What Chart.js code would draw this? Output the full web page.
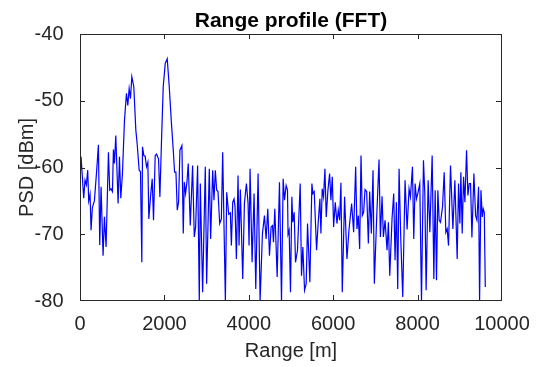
<!DOCTYPE html>
<html>
<head>
<meta charset="utf-8">
<script src="https://cdn.jsdelivr.net/npm/chart.js@4.4.1/dist/chart.umd.min.js"></script>
<style>
  html, body { margin: 0; padding: 0; background: #fff; }
  #wrap { width: 543px; height: 367px; }
</style>
</head>
<body>
<div id="wrap"><canvas id="rangeChart" width="543" height="367"></canvas></div>
<script>
// range bins [m], one line per stretch of the x axis
const rangeM = [
  0, 25, 88, 119, 151, 183, 206, 238, 262, 293, 341, 396, 436, 468, 499, 547, 579, 618, 674, 705, 737, 769, 792, 816, 848, 903, 935, 967, 1006, 1054, 1101, 1133, 1165, 1196, 1228,
  1275, 1323, 1354, 1402, 1433, 1465, 1481, 1513, 1544, 1576, 1608, 1631, 1671, 1711, 1742, 1782, 1814, 1861, 1893, 1932, 1972, 2020, 2067, 2115, 2162, 2210, 2241, 2273, 2305, 2336, 2368, 2415, 2447, 2471,
  2502, 2534, 2565, 2613, 2668, 2708, 2740, 2787, 2827, 2851, 2906, 2969, 3001, 3064, 3096, 3144, 3175, 3207, 3239, 3270, 3310, 3350, 3381, 3445, 3476, 3524, 3563, 3587, 3619, 3650, 3674, 3706,
  3745, 3769, 3800, 3856, 3896, 3943, 3983, 4006, 4030, 4078, 4125, 4165, 4220, 4268, 4323, 4371, 4410, 4450, 4490, 4529, 4561, 4585, 4616, 4672, 4727, 4775, 4814, 4846, 4885, 4917,
  4930, 4956, 4988, 5020, 5043, 5075, 5107, 5154, 5218, 5249, 5281, 5321, 5360, 5392, 5447, 5495, 5519, 5550, 5606, 5645, 5685, 5709, 5740, 5772, 5804, 5835, 5875, 5915, 5946, 5978, 6010, 6049, 6089, 6120, 6152, 6183,
  6215, 6270, 6326, 6373, 6437, 6484, 6532, 6563, 6595, 6627, 6659, 6690, 6722, 6754, 6793, 6833, 6864, 6904, 6944, 6975, 7031, 7086, 7118, 7158, 7189, 7229, 7276, 7308, 7340, 7395,
  7434, 7466, 7498, 7529, 7561, 7600, 7648, 7703, 7751, 7798, 7830, 7878, 7909, 7941, 7973, 8004, 8052, 8092, 8139, 8171, 8202, 8250, 8290, 8345, 8385, 8416, 8448, 8480, 8511, 8543, 8590, 8630,
  8669, 8701, 8733, 8780, 8836, 8883, 8938, 8970, 9002, 9026, 9057, 9089, 9121, 9160, 9192, 9224, 9255, 9287, 9334, 9374, 9406, 9445, 9469, 9501, 9532, 9556, 9580, 9604
];

// PSD [dBm] at those bins
const psdDbm = [
  -62, -58.4, -64.6, -61.9, -62.6, -60.4, -65, -64, -69.4, -66, -65, -60.4, -56.6, -71.6, -62.9, -73.2, -67.4, -71.9, -57.7, -63.4, -63.2, -63.6, -57.3, -59.4, -55.2, -65.4, -58.4, -64.6, -60.9, -52.9, -48.9, -50.7, -48.2, -49.7, -46.4,
  -47.9, -54.4, -56.4, -60.4, -60.6, -74.2, -56.9, -58.2, -58.3, -59.9, -59.2, -67.7, -64.4, -61.7, -67.9, -58.2, -58.0, -58.7, -64.4, -55.9, -47.9, -44.4, -43.7, -47.9, -52.9, -57.4, -60.7, -60.7, -66.4, -65.2, -57.4, -56.7, -69.9, -62.2,
  -63.9, -62.2, -59.4, -68.7, -59.7, -70.4, -68.9, -59.7, -80, -62.4, -78.7, -59.9, -77.4, -60.2, -70.7, -60.4, -64.9, -60.4, -63.4, -63.6, -68.4, -67.7, -57.7, -80, -63.7, -67, -66.8, -71.7, -65.2, -64.7, -65.9, -73.7,
  -61.2, -71.7, -63.3, -76.7, -65.4, -62.4, -65.4, -71.7, -60.2, -74.2, -63.9, -78.2, -60.9, -80, -69.9, -67.2, -70.7, -66.2, -73.2, -68.9, -68.7, -71.2, -66.2, -76.4, -62.2, -80, -61.7, -64.9, -62.7, -63.4,
  -70, -69.4, -78.7, -64.4, -68.2, -66.7, -74.2, -72.4, -62.4, -76.2, -71.9, -78.4, -77.4, -68.4, -77.2, -62.4, -63.9, -63.6, -72.4, -68.2, -64.7, -69.9, -63.2, -64.4, -60.2, -67.4, -63.4, -60.9, -64.9, -61.4, -68.9, -65.2, -68.4, -66.4, -67.9, -62.3,
  -78.7, -64.4, -73.7, -69.4, -65.4, -69.7, -59.9, -69.2, -67.2, -72.2, -58.2, -67.2, -66.7, -63.3, -63.6, -71.4, -63.6, -69.9, -60.4, -77.4, -67.4, -58.8, -70.4, -64.3, -70.4, -67.9, -72.4, -68.2, -76.2, -67.6,
  -63.9, -73.9, -65.2, -78.2, -60.2, -70.4, -79.4, -61.9, -69.3, -63.2, -64.4, -59.9, -70.7, -62.4, -64.7, -63.9, -62.4, -80, -58.9, -63.9, -78.4, -61.9, -69.7, -58.2, -76.7, -63.4, -76.9, -63.4, -67.9, -68.2, -65.9, -60.7,
  -69.7, -69.2, -71.7, -59.7, -69.2, -61.9, -73.7, -62.4, -68.4, -60.7, -69.9, -61.4, -65.2, -57.4, -64.2, -62.4, -62.4, -70.5, -60.9, -67.2, -67.9, -62.9, -80, -63.4, -67.4, -66.2, -66.7, -77.9
];

const xTicks = [0, 2000, 4000, 6000, 8000, 10000];
const yTicks = [-80, -70, -60, -50, -40];

const axisColor = '#262626';
const fontFamily = '"Liberation Sans", Arial, Helvetica, sans-serif';

// MATLAB style box, ticks point into the plot on all four sides
const boxPlugin = {
  id: 'matlabBox',
  afterDraw(chart) {
    const c = chart.ctx;
    const a = chart.chartArea;
    const xs = chart.scales.x, ys = chart.scales.y;
    const L = Math.round(a.left), R = Math.round(a.right) - 1;
    const T = Math.round(a.top), B = Math.round(a.bottom) - 1;
    const len = 5;
    c.save();
    c.fillStyle = axisColor;
    c.fillRect(L, T, R - L + 1, 1);
    c.fillRect(L, B, R - L + 1, 1);
    c.fillRect(L, T, 1, B - T + 1);
    c.fillRect(R, T, 1, B - T + 1);
    xTicks.forEach(v => {
      const px = Math.round(xs.getPixelForValue(v));
      c.fillRect(Math.min(px, R), B - len, 1, len);
      c.fillRect(Math.min(px, R), T, 1, len);
    });
    yTicks.forEach(v => {
      const py = Math.round(ys.getPixelForValue(v));
      c.fillRect(L, Math.min(py, B), len, 1);
      c.fillRect(R - len, Math.min(py, B), len, 1);
    });
    c.restore();
  }
};

const chart = new Chart(document.getElementById('rangeChart'), {
  type: 'line',
  data: {
    datasets: [{
      data: rangeM.map((r, i) => ({ x: r, y: psdDbm[i] })),
      borderColor: '#0000ff',
      borderWidth: 1.2,
      pointRadius: 0,
      tension: 0,
      fill: false
    }]
  },
  options: {
    responsive: false,
    animation: false,
    layout: { padding: { left: 0, right: 41, top: 0, bottom: 0 } },
    plugins: {
      legend: { display: false },
      tooltip: { enabled: false },
      title: {
        display: true,
        fullSize: false,
        text: 'Range profile (FFT)',
        color: '#000',
        font: { family: fontFamily, size: 21, weight: 'bold', lineHeight: 1.2 },
        padding: { top: 8.5, bottom: 0.3 }
      }
    },
    scales: {
      x: {
        type: 'linear',
        min: 0,
        max: 10000,
        afterBuildTicks: s => { s.ticks = xTicks.map(v => ({ value: v })); },
        afterFit: s => { s.height = 66; },
        grid: { display: false },
        border: { display: false },
        ticks: {
          color: axisColor,
          padding: 3,
          maxRotation: 0,
          font: { family: fontFamily, size: 20 },
          callback: v => String(v)
        },
        title: {
          display: true,
          text: 'Range [m]',
          color: axisColor,
          font: { family: fontFamily, size: 20, lineHeight: 1.2 },
          padding: { top: 0, bottom: 3.5 }
        }
      },
      y: {
        min: -80,
        max: -40,
        afterBuildTicks: s => { s.ticks = yTicks.map(v => ({ value: v })); },
        afterFit: s => { s.width = 80; },
        grid: { display: false },
        border: { display: false },
        ticks: {
          color: axisColor,
          padding: 8.5,
          font: { family: fontFamily, size: 20 },
          callback: v => String(v)
        },
        title: {
          display: true,
          text: 'PSD [dBm]',
          color: axisColor,
          font: { family: fontFamily, size: 20, lineHeight: 1.2 },
          padding: { top: 15, bottom: 0 }
        }
      }
    }
  },
  plugins: [boxPlugin]
});
</script>
</body>
</html>
